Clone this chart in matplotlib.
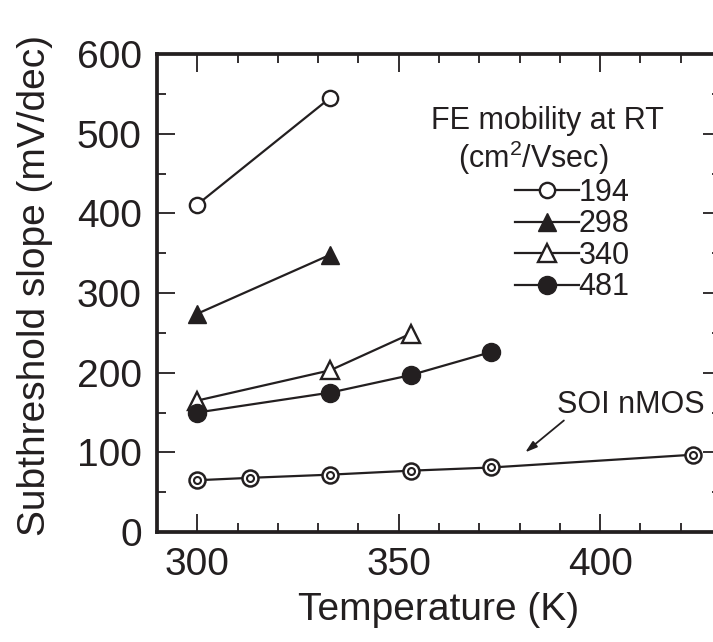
import matplotlib
matplotlib.use("Agg")
import matplotlib.pyplot as plt
from matplotlib.ticker import MultipleLocator

plt.rcParams["font.family"] = ["Liberation Sans", "DejaVu Sans"]
plt.rcParams["mathtext.fontset"] = "custom"
plt.rcParams["mathtext.rm"] = "Liberation Sans"
plt.rcParams["mathtext.it"] = "Liberation Sans:italic"

INK = "#231f20"

# subthreshold slope (mV/dec) vs temperature (K) for each FE mobility at RT
temp_194 = [300, 333]
slope_194 = [411, 545]
temp_298 = [300, 333]
slope_298 = [274, 348]
temp_340 = [300, 333, 353]
slope_340 = [165, 203, 249]
temp_481 = [300, 333, 353, 373]
slope_481 = [150, 175, 197, 226]

# SOI nMOS reference device
temp_soi = [300, 313, 333, 353, 373, 423]
slope_soi = [65, 68, 72, 77, 81, 97]

fig = plt.figure(figsize=(7.13, 6.42), dpi=100)
ax = fig.add_axes([0.2202, 0.1713, 0.791, 0.7446])

lw = 1.6
h194, = ax.plot(temp_194, slope_194, "-o", color=INK, lw=lw, ms=11,
                mfc="white", mec=INK, mew=1.7, label="194")
h298, = ax.plot(temp_298, slope_298, "-^", color=INK, lw=lw, ms=13,
                mfc=INK, mec=INK, mew=1.0, label="298")
h340, = ax.plot(temp_340, slope_340, "-^", color=INK, lw=lw, ms=13,
                mfc="white", mec=INK, mew=1.7, label="340")
h481, = ax.plot(temp_481, slope_481, "-o", color=INK, lw=lw, ms=13,
                mfc=INK, mec=INK, mew=1.0, label="481")

# double-ring marker for SOI nMOS
ax.plot(temp_soi, slope_soi, "-o", color=INK, lw=lw, ms=11.5,
        mfc="white", mec=INK, mew=1.8, zorder=3)
ax.plot(temp_soi, slope_soi, "o", ls="none", ms=5,
        mfc="white", mec=INK, mew=1.5, zorder=4)

ax.set_xlim(290, 430)
ax.set_ylim(0, 600)
ax.xaxis.set_major_locator(MultipleLocator(50))
ax.xaxis.set_minor_locator(MultipleLocator(10))
ax.yaxis.set_major_locator(MultipleLocator(100))
ax.yaxis.set_minor_locator(MultipleLocator(50))

ax.tick_params(which="both", direction="in", top=True, right=True,
               colors=INK, width=1.3)
ax.tick_params(which="major", length=13, labelsize=28, pad=11)
ax.tick_params(which="minor", length=6.5)
for s in ax.spines.values():
    s.set_linewidth(2.7)
    s.set_color(INK)

ax.set_xlabel("Temperature (K)", fontsize=28, color=INK, labelpad=6)
ax.set_ylabel("Subthreshold slope (mV/dec)", fontsize=28, color=INK)
ax.yaxis.set_label_coords(-0.185, 0.515)

# legend heading
ax.text(0.693, 0.859, "FE mobility at RT", transform=ax.transAxes,
        fontsize=22, color=INK, ha="center", va="center")
ax.text(0.667, 0.783, "(cm$^2$/Vsec)", transform=ax.transAxes,
        fontsize=22, color=INK, ha="center", va="center")

leg = ax.legend(handles=[h194, h298, h340, h481], loc="upper left",
                bbox_to_anchor=(0.634, 0.741), frameon=False, fontsize=22,
                handlelength=2.1, handletextpad=0.0, labelspacing=0.05,
                borderpad=0, borderaxespad=0)
for t in leg.get_texts():
    t.set_color(INK)

ax.annotate("", xy=(381.4, 100), xytext=(391, 140),
            arrowprops=dict(arrowstyle="-|>,head_length=0.7,head_width=0.22",
                            color=INK, lw=1.3, shrinkA=0, shrinkB=0))
ax.text(407.5, 160, "SOI nMOS", fontsize=22, color=INK, ha="center", va="center")

fig.savefig("out.png", dpi=100)
